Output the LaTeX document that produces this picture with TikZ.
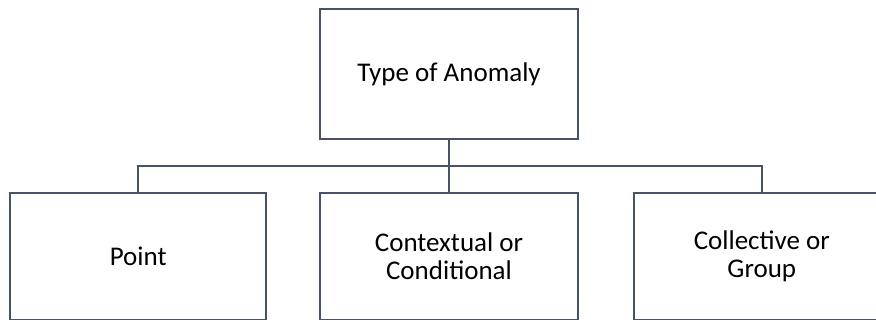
\documentclass[tikz,border=0pt]{standalone}
\usepackage{fontspec}
\setmainfont{Carlito}
\usetikzlibrary{positioning,calc}
\definecolor{boxline}{RGB}{72,84,102}

\begin{document}
\begin{tikzpicture}[x=1pt,y=1pt]
    \tikzset{
        typebox/.style={draw=boxline, line width=1.8pt, minimum width=256pt, minimum height=127pt,
                        inner sep=0pt, align=center, font=\fontsize{27}{28}\selectfont},
        branch/.style={draw=boxline, line width=1.8pt}
    }
    \useasboundingbox (0,0) rectangle (876,-320);
    \clip (0,0) rectangle (876,-320);
    \node[typebox, minimum width=258pt, minimum height=130pt] (anomaly) at (449,-74) {Type of Anomaly};
    \node[typebox, minimum width=258pt] (contextual) at (449,-256.5) {Contextual or\\Conditional};
    \node[typebox, left=52pt of contextual] (point) {Point};
    \node[typebox, right=54pt of contextual] (collective) {Collective or\\Group};
    % tree connectors
    \coordinate (split) at ($(anomaly.south)!0.5!(contextual.north)$);
    \draw[branch] (anomaly.south) -- (contextual.north);
    \draw[branch] (point.north) |- (split) -| (collective.north);
\end{tikzpicture}
\end{document}
